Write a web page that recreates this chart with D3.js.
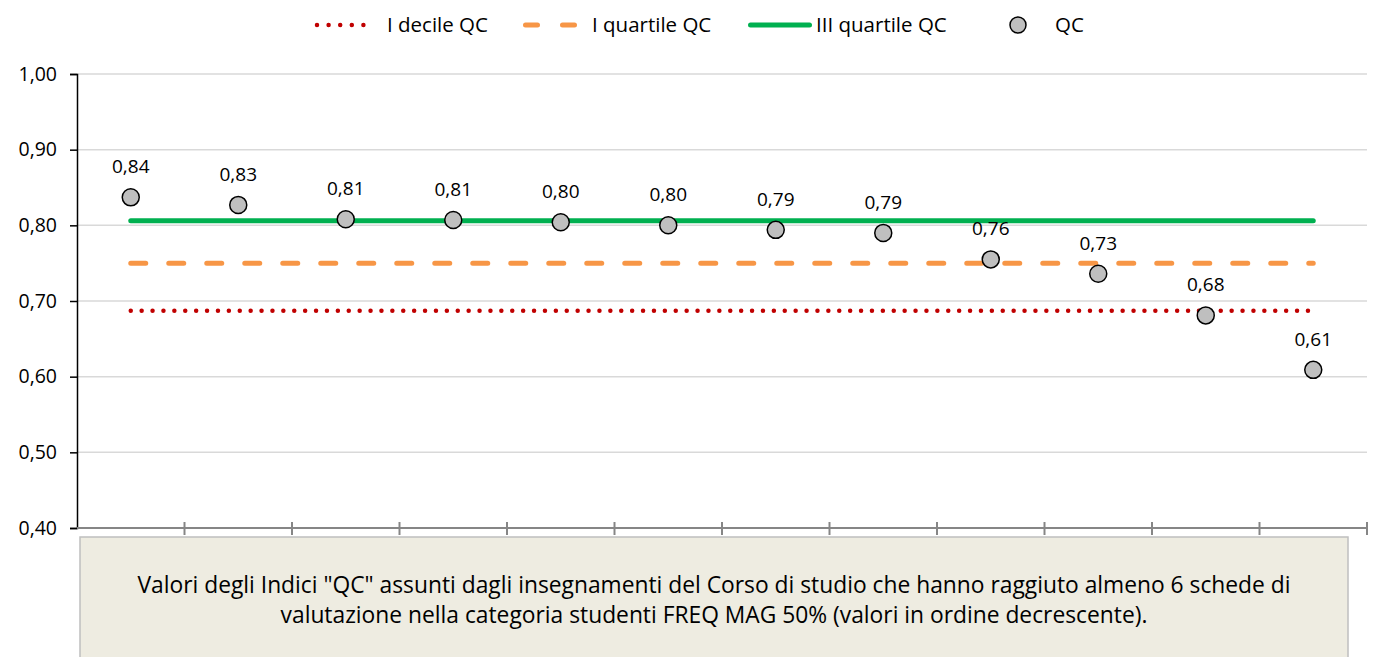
<!DOCTYPE html>
<html>
<head>
<meta charset="utf-8">
<script src="https://cdn.jsdelivr.net/npm/d3@7"></script>
<style>
  body { margin: 0; background: #fff; }
  svg { font-family: "Open Sans", "Noto Sans", sans-serif; }
</style>
</head>
<body>
<svg id="chart" width="1373" height="657"></svg>
<script>
// data
const categories = ["1", "2", "3", "4", "5", "6", "7", "8", "9", "10", "11", "12"];
const qcValues = [0.837, 0.827, 0.808, 0.807, 0.804, 0.800, 0.794, 0.790, 0.755, 0.736, 0.681, 0.609];
const qcLabels = ["0,84", "0,83", "0,81", "0,81", "0,80", "0,80", "0,79", "0,79", "0,76", "0,73", "0,68", "0,61"];
const decile1 = 0.687;
const quartile1 = 0.750;
const quartile3 = 0.806;
const yTicks = [0.4, 0.5, 0.6, 0.7, 0.8, 0.9, 1.0];
const caption = [
    "Valori degli Indici \"QC\" assunti dagli insegnamenti del Corso di studio che hanno raggiuto almeno 6 schede di",
    "valutazione nella categoria studenti FREQ MAG 50% (valori in ordine decrescente)."
];

const svg = d3.select("#chart");
const plotLeft = 77, plotRight = 1367, plotTop = 74, plotBottom = 528;

const x = d3.scaleBand().domain(categories).range([plotLeft, plotRight]);
const y = d3.scaleLinear().domain([0.4, 1.0]).range([plotBottom, plotTop]);
const fmt = d => d3.format(".2f")(d).replace(".", ",");

// gridlines
svg.append("g").selectAll("line").data(yTicks.slice(1)).join("line")
    .attr("x1", plotLeft).attr("x2", plotRight)
    .attr("y1", d => y(d)).attr("y2", d => y(d))
    .attr("stroke", "#d9d9d9").attr("stroke-width", 1.5);

// y axis
const yAxis = svg.append("g").attr("transform", `translate(${plotLeft},0)`)
    .call(d3.axisLeft(y).tickValues(yTicks).tickFormat(fmt).tickSize(7).tickPadding(13));
yAxis.attr("font-size", null).attr("font-family", null);
yAxis.select(".domain").attr("stroke", "#000").attr("stroke-width", 1.5);
yAxis.selectAll(".tick line").attr("stroke", "#000").attr("stroke-width", 1.5);
yAxis.selectAll(".tick text").style("font-size", "19.5px").attr("fill", "#000");

// x axis (ticks at band edges, crossing the line)
svg.append("line").attr("x1", plotLeft).attr("x2", plotRight).attr("y1", plotBottom).attr("y2", plotBottom)
    .attr("stroke", "#868686").attr("stroke-width", 2);
const edges = categories.map(c => x(c)).concat([plotRight]);
svg.append("g").selectAll("line").data(edges.slice(1)).join("line")
    .attr("x1", d => d).attr("x2", d => d)
    .attr("y1", plotBottom - 6).attr("y2", plotBottom + 7)
    .attr("stroke", "#868686").attr("stroke-width", 2);

const cx = c => x(c) + x.bandwidth() / 2;
const x0 = cx(categories[0]), x1 = cx(categories[categories.length - 1]);

// reference lines
svg.append("line").attr("x1", x0).attr("x2", x1).attr("y1", y(quartile3)).attr("y2", y(quartile3))
    .attr("stroke", "#00b050").attr("stroke-width", 5).attr("stroke-linecap", "round");
svg.append("line").attr("x1", x0).attr("x2", x1).attr("y1", y(quartile1)).attr("y2", y(quartile1))
    .attr("stroke", "#f79646").attr("stroke-width", 5).attr("stroke-linecap", "round")
    .attr("stroke-dasharray", "15 23");
svg.append("line").attr("x1", x0).attr("x2", x1).attr("y1", y(decile1)).attr("y2", y(decile1))
    .attr("stroke", "#c00000").attr("stroke-width", 4.5).attr("stroke-linecap", "round")
    .attr("stroke-dasharray", "0 10.9");

// points
svg.append("g").selectAll("circle").data(qcValues).join("circle")
    .attr("cx", (d, i) => cx(categories[i])).attr("cy", d => y(d)).attr("r", 8.5)
    .attr("fill", "#bfbfbf").attr("stroke", "#000").attr("stroke-width", 1.5);
svg.append("g").selectAll("text").data(qcValues).join("text")
    .attr("x", (d, i) => cx(categories[i])).attr("y", d => y(d) - 24)
    .attr("text-anchor", "middle").style("font-size", "19px").attr("fill", "#000")
    .text((d, i) => qcLabels[i]);

// legend
const leg = svg.append("g").style("font-size", "20.5px");
const ly = 25;
leg.append("line").attr("x1", 317).attr("x2", 375).attr("y1", ly).attr("y2", ly)
    .attr("stroke", "#c00000").attr("stroke-width", 4.5).attr("stroke-linecap", "round").attr("stroke-dasharray", "0 11.6");
leg.append("text").attr("x", 387).attr("y", ly).attr("dy", "0.35em").text("I decile QC");
leg.append("line").attr("x1", 525.5).attr("x2", 579).attr("y1", ly).attr("y2", ly)
    .attr("stroke", "#f79646").attr("stroke-width", 5).attr("stroke-linecap", "round").attr("stroke-dasharray", "12 25");
leg.append("text").attr("x", 592).attr("y", ly).attr("dy", "0.35em").text("I quartile QC");
leg.append("line").attr("x1", 750.5).attr("x2", 809.5).attr("y1", ly).attr("y2", ly)
    .attr("stroke", "#00b050").attr("stroke-width", 5).attr("stroke-linecap", "round");
leg.append("text").attr("x", 816).attr("y", ly).attr("dy", "0.35em").text("III quartile QC");
leg.append("circle").attr("cx", 1018).attr("cy", ly).attr("r", 8)
    .attr("fill", "#bfbfbf").attr("stroke", "#000").attr("stroke-width", 1.5);
leg.append("text").attr("x", 1055).attr("y", ly).attr("dy", "0.35em").text("QC");

// caption box
svg.append("rect").attr("x", 80).attr("y", 537).attr("width", 1268).attr("height", 130)
    .attr("fill", "#eeece1").attr("stroke", "#bfbfbf").attr("stroke-width", 1.5);
svg.append("g").selectAll("text").data(caption).join("text")
    .attr("x", 714).attr("y", (d, i) => 593 + i * 30)
    .attr("text-anchor", "middle").style("font-size", "22.8px").attr("fill", "#000")
    .text(d => d);
</script>
</body>
</html>
